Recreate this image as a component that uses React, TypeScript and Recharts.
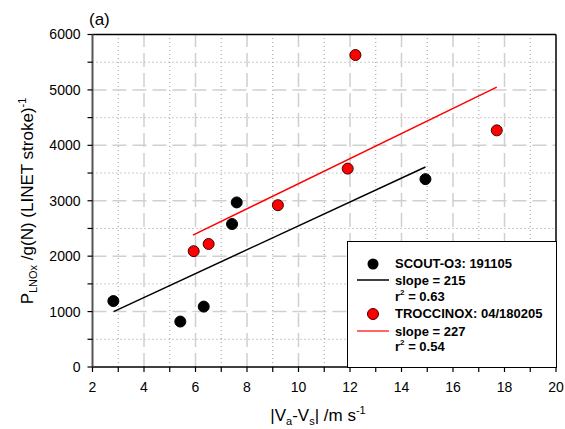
import React from "react";
import { ComposedChart, Scatter, XAxis, YAxis, ReferenceLine, Label } from "recharts";

const scoutPoints = [
  { x: 2.81, y: 1190 },
  { x: 5.41, y: 820 },
  { x: 6.32, y: 1090 },
  { x: 7.42, y: 2580 },
  { x: 7.6, y: 2970 },
  { x: 14.93, y: 3390 },
];

const troccinoxPoints = [
  { x: 5.93, y: 2090 },
  { x: 6.51, y: 2220 },
  { x: 9.2, y: 2920 },
  { x: 11.91, y: 3580 },
  { x: 12.21, y: 5630 },
  { x: 17.7, y: 4270 },
];

// regression line end points
const scoutFit = [
  { x: 2.82, y: 1000 },
  { x: 14.93, y: 3610 },
];
const troccinoxFit = [
  { x: 5.9, y: 2380 },
  { x: 17.7, y: 5050 },
];

const xTicks = [2, 3, 4, 5, 6, 7, 8, 9, 10, 11, 12, 13, 14, 15, 16, 17, 18, 19, 20];
const yTicks = [0, 500, 1000, 1500, 2000, 2500, 3000, 3500, 4000, 4500, 5000, 5500, 6000];
const xMajorGrid = [4, 6, 8, 10, 12, 14, 16, 18];
const xMinorGrid = [3, 5, 7, 9, 11, 13, 15, 17, 19];
const yMajorGrid = [1000, 2000, 3000, 4000, 5000];
const yMinorGrid = [500, 1500, 2500, 3500, 4500, 5500];

const FONT = "'Liberation Sans', Arial, sans-serif";
const MAJOR = { stroke: "#d0d0d0", strokeWidth: 1.5, strokeDasharray: "14 6" };
const MINOR = { stroke: "#9a9a9a", strokeWidth: 1, strokeDasharray: "1 3" };

const dot = (fill: string, stroke: string) => (props: any) =>
  <circle cx={props.cx} cy={props.cy} r={5.5} fill={fill} stroke={stroke} strokeWidth={1} />;

const noDot = () => <g />;

const YTitle = () => (
  <text transform="translate(33,201) rotate(-90)" textAnchor="middle" fontSize={17} fill="#000" fontFamily={FONT}>
    P
    <tspan dy={4} fontSize={11}>LNOx</tspan>
    <tspan dy={-4} fontSize={17}> /g(N) (LINET stroke)</tspan>
    <tspan dy={-7} fontSize={11}>-1</tspan>
  </text>
);

const XTitle = () => (
  <text x={318} y={421} textAnchor="middle" fontSize={17} fill="#000" fontFamily={FONT}>
    |V
    <tspan dy={4} fontSize={11}>a</tspan>
    <tspan dy={-4} fontSize={17}>-V</tspan>
    <tspan dy={4} fontSize={11}>s</tspan>
    <tspan dy={-4} fontSize={17}>| /m s</tspan>
    <tspan dy={-7} fontSize={11}>-1</tspan>
  </text>
);

function LegendBox() {
  const t = { fontSize: 13, fontWeight: 700, fill: "#000", fontFamily: FONT };
  return (
    <svg
      width={210}
      height={127}
      style={{ position: "absolute", left: 347, top: 241, background: "#fff", boxSizing: "border-box", border: "1px solid #000" }}
    >
      <circle cx={25} cy={22} r={5.5} fill="#000" />
      <text x={47} y={26} {...t}>SCOUT-O3: 191105</text>
      <line x1={9} x2={41} y1={38} y2={38} stroke="#000" strokeWidth={1.5} />
      <text x={47} y={43} {...t}>slope = 215</text>
      <text x={47} y={59} {...t}>
        r<tspan dy={-6} fontSize={8}>2</tspan>
        <tspan dy={6}> = 0.63</tspan>
      </text>
      <circle cx={25} cy={72} r={5.5} fill="#f00" stroke="#400" />
      <text x={47} y={76} {...t}>TROCCINOX: 04/180205</text>
      <line x1={9} x2={41} y1={89} y2={89} stroke="#f33" strokeWidth={1.5} />
      <text x={47} y={94} {...t}>slope = 227</text>
      <text x={47} y={109} {...t}>
        r<tspan dy={-6} fontSize={8}>2</tspan>
        <tspan dy={6}> = 0.54</tspan>
      </text>
    </svg>
  );
}

export default function App() {
  return (
    <div style={{ position: "absolute", left: 0, top: 0, width: 565, height: 429, background: "#fff", fontFamily: FONT }}>
      <ComposedChart width={565} height={429} margin={{ top: 34.5, right: 9, bottom: 32, left: 32.5 }}>
        <XAxis
          type="number"
          dataKey="x"
          domain={[2, 20]}
          ticks={xTicks}
          interval={0}
          allowDataOverflow
          tickFormatter={(v: number) => (v % 2 === 0 ? String(v) : "")}
          tick={{ fill: "#000", fontSize: 14, fontFamily: FONT }}
          tickSize={5}
          tickMargin={10}
          height={30}
          axisLine={{ stroke: "#000", strokeWidth: 1.5 }}
          tickLine={{ stroke: "#000", strokeWidth: 1.2 }}
        >
          <Label content={() => <XTitle />} />
        </XAxis>
        <YAxis
          type="number"
          dataKey="y"
          domain={[0, 6000]}
          ticks={yTicks}
          interval={0}
          allowDataOverflow
          tickFormatter={(v: number) => (v % 1000 === 0 ? String(v) : "")}
          tick={{ fill: "#000", fontSize: 14, fontFamily: FONT }}
          tickSize={5}
          tickMargin={7}
          width={60}
          axisLine={{ stroke: "#555", strokeWidth: 2 }}
          tickLine={{ stroke: "#000", strokeWidth: 1.2 }}
        >
          <Label content={() => <YTitle />} />
        </YAxis>

        {xMinorGrid.map((v) => <ReferenceLine key={"xm" + v} x={v} {...MINOR} />)}
        {yMinorGrid.map((v) => <ReferenceLine key={"ym" + v} y={v} {...MINOR} />)}
        {xMajorGrid.map((v) => <ReferenceLine key={"xM" + v} x={v} {...MAJOR} />)}
        {yMajorGrid.map((v) => <ReferenceLine key={"yM" + v} y={v} {...MAJOR} />)}
        <ReferenceLine y={6000} stroke="#000" strokeWidth={1.5} />
        <ReferenceLine x={20} stroke="#000" strokeWidth={1.5} />

        <Scatter data={scoutFit} line={{ stroke: "#000", strokeWidth: 1.5 }} shape={noDot} isAnimationActive={false} />
        <Scatter data={troccinoxFit} line={{ stroke: "#f00", strokeWidth: 1.5 }} shape={noDot} isAnimationActive={false} />
        <Scatter data={scoutPoints} shape={dot("#000", "#000")} isAnimationActive={false} />
        <Scatter data={troccinoxPoints} shape={dot("#f00", "#400")} isAnimationActive={false} />
      </ComposedChart>
      <div style={{ position: "absolute", left: 89, top: 10.5, fontSize: 17, lineHeight: "17px", color: "#000" }}>(a)</div>
      <LegendBox />
    </div>
  );
}
